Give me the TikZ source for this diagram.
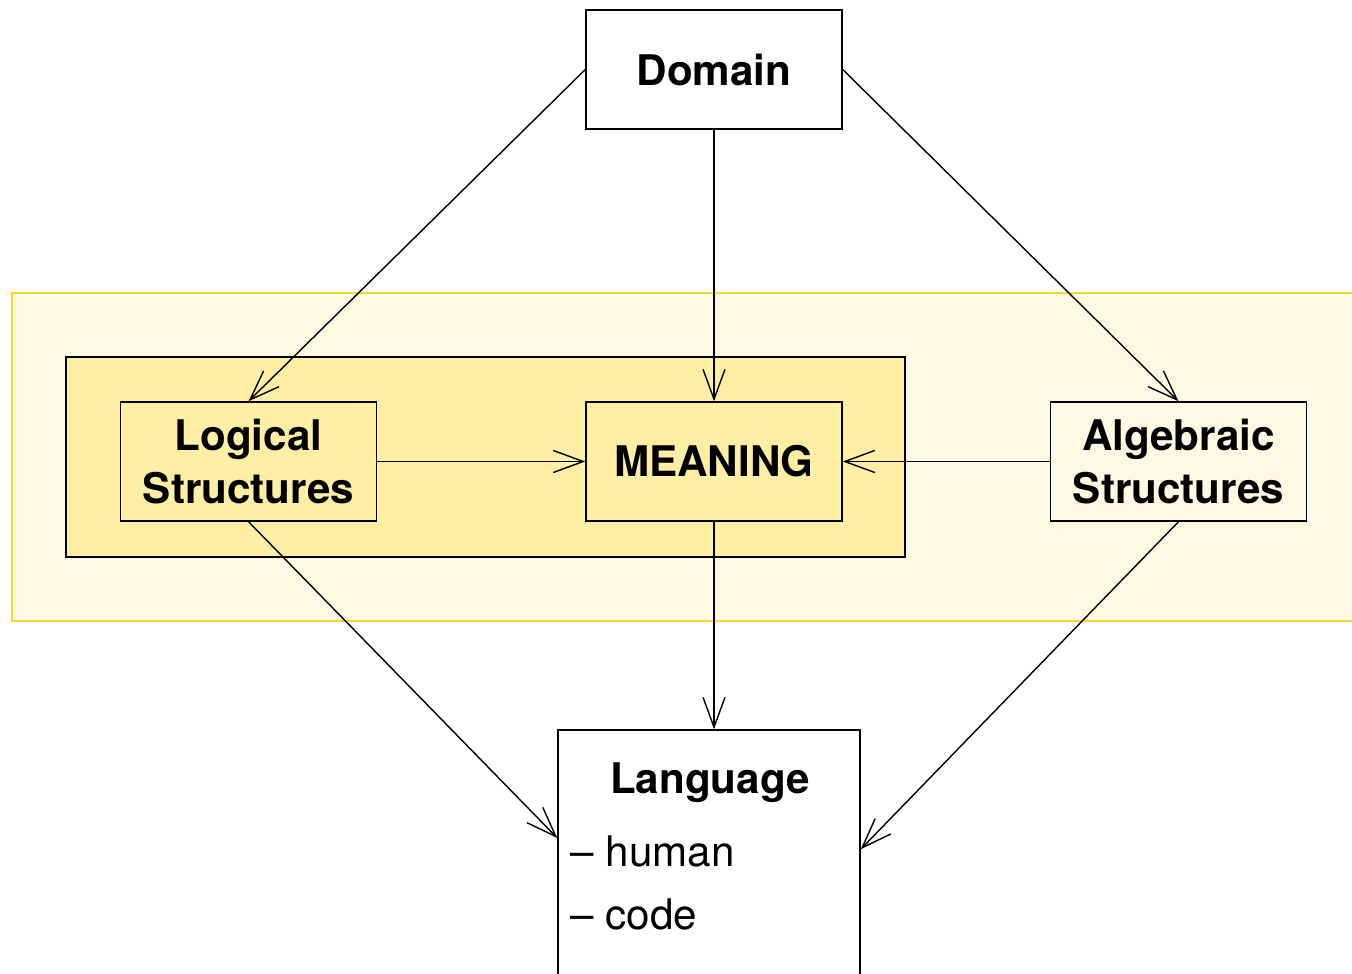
\documentclass[tikz,border=0pt]{standalone}
\usepackage{fontspec}
\setmainfont{TeX Gyre Heros}
\usetikzlibrary{arrows.meta,positioning,calc}

\definecolor{bandfill}{HTML}{FFF8E3}
\definecolor{bandline}{HTML}{F5D838}
\definecolor{corefill}{HTML}{FFEEA5}

\begin{document}
\begin{tikzpicture}[
    every node/.style={rectangle,draw,thin,font=\fontsize{12}{15}\selectfont\bfseries,align=center},
    box/.style={minimum width=2.56cm,minimum height=1.19cm,inner sep=0pt},
    label/.style={draw=none,fill=none,inner sep=0pt,font=\fontsize{12}{15}\selectfont},
    edgeline/.style={thin,-{Straight Barb[length=3mm,width=2.2mm]}}
]
\useasboundingbox (0,0) rectangle (13.52,9.73);

% background bands
\fill[bandfill] (0.12,3.52) rectangle (13.7,6.80);
\draw[bandline,thick] (13.7,6.80) -- (0.12,6.80) -- (0.12,3.52) -- (13.7,3.52);
\draw[thin,fill=corefill] (0.66,4.16) rectangle (9.05,6.16);

\node[box,fill=white]    (domain) at (7.14,9.035) {Domain};
\node[box,fill=corefill] (logic)  at (2.485,5.115) {Logical\\Structures};
\node[box,fill=corefill] (mean)   at (7.14,5.115) {MEANING};
\node[box,fill=bandfill] (alg)    at (11.785,5.115) {Algebraic\\Structures};
\node[fill=white,minimum width=3.02cm,minimum height=3.03cm,inner sep=0pt] (lang) at (7.09,0.915) {};

\node[label,font=\fontsize{12}{15}\selectfont\bfseries,anchor=base] (langtitle) at (7.10,1.80) {Language};
\node[label,anchor=base west] (human) at (5.70,1.07) {-- human};
\node[label,anchor=base west] (code)  at (5.70,0.44) {-- code};

\path[edgeline]
    (domain.west) edge (logic.north)
    (domain.south) edge (mean.north)
    (domain.east) edge (alg.north)
    (logic.east) edge (mean.west)
    (alg.west) edge (mean.east)
    (mean.south) edge (mean.south |- lang.north)
    (logic.south) edge (lang.164)
    (alg.south) edge (lang.12.5);
\end{tikzpicture}
\end{document}
